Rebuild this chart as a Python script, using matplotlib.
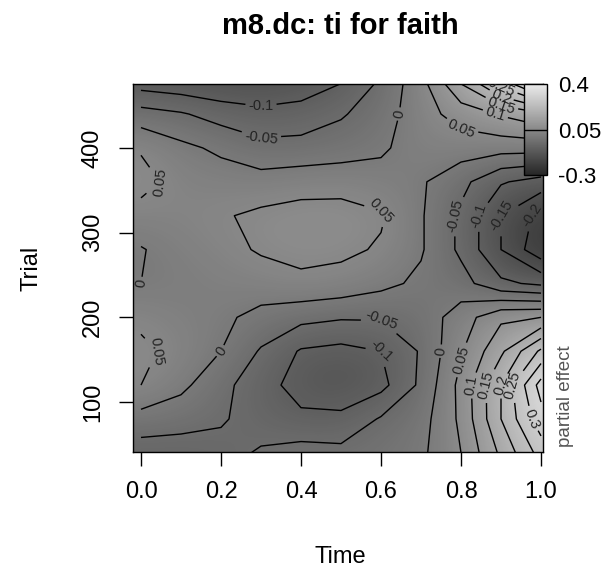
"""ti(Time, Trial) partial effect surface for m8.dc (faith)"""

import numpy as np
import matplotlib
matplotlib.use("Agg")
import matplotlib.pyplot as plt
from matplotlib.colors import LinearSegmentedColormap

plt.rcParams["font.family"] = ["Liberation Sans", "DejaVu Sans"]
plt.rcParams["contour.negative_linestyle"] = "solid"

# grid: columns = Time, rows = Trial
time_pts = [0.0, 0.1, 0.2, 0.3, 0.4, 0.5, 0.6, 0.7, 0.8, 0.9, 1.0]
trial_pts = [40, 80, 120, 160, 200, 240, 280, 320, 360, 400, 440, 480]

row_40 = [-0.075, -0.075, -0.065, -0.045, -0.03, -0.035, -0.025, -0.01, 0.05, 0.16, 0.27]
row_80 = [-0.02, -0.03, -0.045, -0.07, -0.09, -0.09, -0.045, -0.02, 0.06, 0.2, 0.33]
row_120 = [0.05, 0.012, -0.035, -0.08, -0.12, -0.13, -0.115, -0.04, 0.065, 0.2, 0.37]
row_160 = [0.06, 0.035, 0.0, -0.055, -0.105, -0.115, -0.1, -0.045, 0.045, 0.14, 0.26]
row_200 = [0.04, 0.02, 0.01, -0.015, -0.035, -0.045, -0.045, -0.03, 0.025, 0.09, 0.1]
row_240 = [0.0, 0.01, 0.02, 0.027, 0.041, 0.033, 0.013, -0.01, -0.03, -0.09, -0.11]
row_280 = [-0.003, 0.02, 0.035, 0.055, 0.062, 0.06, 0.045, 0.005, -0.06, -0.15, -0.235]
row_320 = [0.03, 0.035, 0.045, 0.06, 0.068, 0.068, 0.055, 0.005, -0.06, -0.15, -0.215]
row_360 = [0.068, 0.03, 0.025, 0.02, 0.03, 0.032, 0.02, 0.006, -0.035, -0.095, -0.12]
row_400 = [0.045, 0.012, -0.01, -0.035, -0.035, -0.025, -0.008, 0.025, 0.025, 0.02, 0.02]
row_440 = [-0.03, -0.045, -0.07, -0.085, -0.075, -0.055, -0.025, 0.03, 0.07, 0.105, 0.14]
row_480 = [-0.13, -0.14, -0.15, -0.15, -0.14, -0.105, -0.045, 0.035, 0.16, 0.29, 0.43]

zlim = [-0.3, 0.4]
bar_ticks = [-0.3, 0.05, 0.4]

fit = np.array([row_40, row_80, row_120, row_160, row_200, row_240,
                row_280, row_320, row_360, row_400, row_440, row_480])
t = np.array(time_pts)
tr = np.array(trial_pts)

W, H = 601, 573
fig = plt.figure(figsize=(W / 100, H / 100), dpi=100)
ax = fig.add_axes([133 / W, 1 - 452 / H, 410 / W, 368 / H])

grays = LinearSegmentedColormap.from_list("grays", ["#262626", "#ebebeb"])

# surface, cell centred so that it fills the whole panel
dt = (t[1] - t[0]) / 2
dtr = (tr[1] - tr[0]) / 2
im = ax.imshow(fit, origin="lower", aspect="auto", cmap=grays,
               extent=(t[0] - dt, t[-1] + dt, tr[0] - dtr, tr[-1] + dtr),
               vmin=zlim[0], vmax=zlim[1], interpolation="bicubic")

levels = np.round(np.arange(zlim[0], zlim[1] + 0.001, 0.05), 2)
cs = ax.contour(t, tr, fit, levels=levels, colors="black", linewidths=1.0)


def fmt(v):
    v = round(float(v), 2)
    return "0" if v == 0 else f"{v:g}"


ax.clabel(cs, fmt=fmt, fontsize=10.5, inline=True, inline_spacing=2, colors="#222222")

ax.set_xlim(-0.02, 1.005)
ax.set_ylim(41, 475.5)
ax.set_xticks([0.0, 0.2, 0.4, 0.6, 0.8, 1.0])
ax.set_xticklabels(["0.0", "0.2", "0.4", "0.6", "0.8", "1.0"])
ax.set_yticks([100, 200, 300, 400])
ax.tick_params(axis="both", labelsize=17, length=10, width=1, color="black", pad=11)
for lab in ax.get_yticklabels():
    lab.set_rotation(90)
    lab.set_verticalalignment("center")
for sp in ax.spines.values():
    sp.set_color("black")
    sp.set_linewidth(1)

fig.text(340 / W, 1 - 26 / H, "m8.dc: ti for faith", ha="center", va="center",
         fontsize=21, fontweight="bold")
fig.text(340 / W, 1 - 557 / H, "Time", ha="center", va="center", fontsize=17)
fig.text(31 / W, 1 - 268 / H, "Trial", ha="center", va="center", fontsize=17,
         rotation=90)
fig.text(566 / W, 1 - 396 / H, "partial effect", ha="center", va="center",
         fontsize=13.5, rotation=90, color="#555555")

# gradient legend in the top right corner
cax = fig.add_axes([524 / W, 1 - 175 / H, 23 / W, 91 / H])
cb = fig.colorbar(im, cax=cax, ticks=bar_ticks)
cb.outline.set_color("black")
cb.outline.set_linewidth(1)
cax.axhline(bar_ticks[1], color="black", lw=1)
cax.tick_params(length=0, labelsize=16, pad=8)
cax.set_yticklabels([fmt(v) for v in bar_ticks])

fig.savefig("out.png", dpi=100)
